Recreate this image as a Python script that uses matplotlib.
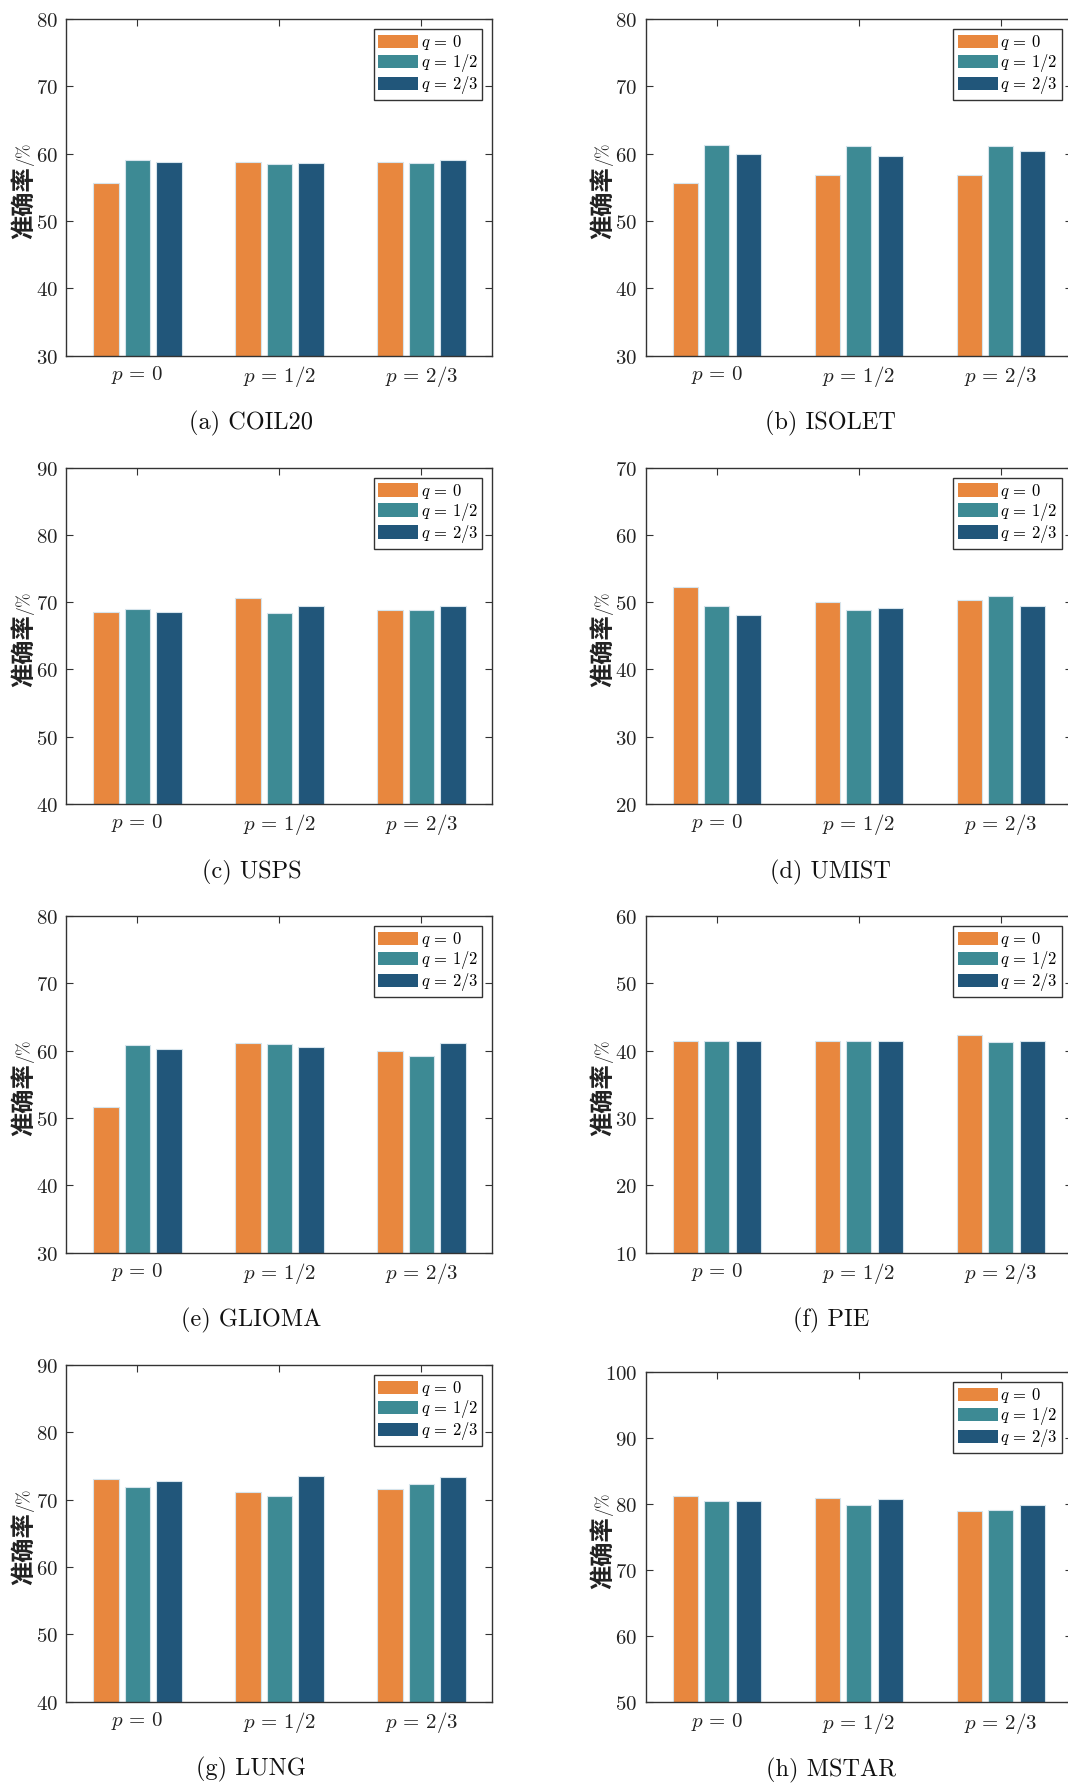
import matplotlib
matplotlib.use('Agg')
import matplotlib.pyplot as plt
import numpy as np

plt.rcParams['mathtext.fontset'] = 'cm'

# ---- data ----
p_labels = [r'$p\,=\,0$', r'$p\,=\,1/2$', r'$p\,=\,2/3$']
q_labels = [r'$q\,=\,0$', r'$q\,=\,1/2$', r'$q\,=\,2/3$']
colors = ['#E8873E', '#3D8A94', '#21567A']

# rows: q=0, q=1/2, q=2/3 ; columns: p=0, p=1/2, p=2/3
coil20 = [[55.6, 58.7, 58.8], [59.0, 58.5, 58.6], [58.8, 58.6, 59.1]]
isolet = [[55.6, 56.9, 56.9], [61.3, 61.1, 61.1], [60.0, 59.7, 60.4]]
usps = [[68.6, 70.7, 68.9], [69.0, 68.4, 68.9], [68.5, 69.5, 69.5]]
umist = [[52.3, 50.0, 50.3], [49.5, 48.9, 50.9], [48.1, 49.2, 49.5]]
glioma = [[51.7, 61.1, 60.0], [60.9, 61.0, 59.2], [60.2, 60.5, 61.2]]
pie = [[41.4, 41.5, 42.4], [41.5, 41.5, 41.3], [41.5, 41.4, 41.5]]
lung = [[73.0, 71.2, 71.6], [71.9, 70.6, 72.3], [72.8, 73.5, 73.3]]
mstar = [[81.3, 80.9, 79.0], [80.5, 79.8, 79.1], [80.4, 80.7, 79.8]]

ylims = {'COIL20': (30, 80), 'ISOLET': (30, 80), 'USPS': (40, 90), 'UMIST': (20, 70),
         'GLIOMA': (30, 80), 'PIE': (10, 60), 'LUNG': (40, 90), 'MSTAR': (50, 100)}
captions = ['(a) COIL20', '(b) ISOLET', '(c) USPS', '(d) UMIST',
            '(e) GLIOMA', '(f) PIE', '(g) LUNG', '(h) MSTAR']
names = ['COIL20', 'ISOLET', 'USPS', 'UMIST', 'GLIOMA', 'PIE', 'LUNG', 'MSTAR']
values = [coil20, isolet, usps, umist, glioma, pie, lung, mstar]

# ---- layout (pixels) ----
W, H = 1068, 1784
fig = plt.figure(figsize=(W / 100, H / 100), dpi=100)
col_left = [66.4, 645.7]
ax_w = 426
rows = [[(19, 355.7), (19, 355.7)],
        [(467.7, 804), (467.7, 804)],
        [(916, 1252.7), (916, 1252.7)],
        [(1365, 1701.7), (1372, 1702.3)]]

spine_col = '#333333'

def panel(left, top, bottom, vals, ylim, caption):
    ax = fig.add_axes([left / W, 1 - bottom / H, ax_w / W, (bottom - top) / H])
    x = np.arange(1, 4)
    offsets = [-0.222, 0.0, 0.222]
    for i in range(3):
        ax.bar(x + offsets[i], vals[i], width=0.178, color=colors[i],
               edgecolor='#d6e4ec', linewidth=0.8, label=q_labels[i], zorder=2)
    ax.set_xlim(0.5, 3.5)
    ax.set_ylim(*ylim)
    yt = np.arange(ylim[0], ylim[1] + 1, 10)
    ax.set_yticks(yt, [f'${t}$' for t in yt])
    ax.set_xticks(x, p_labels)
    ax.tick_params(direction='in', top=True, right=True, length=5, width=0.8,
                   color=spine_col, labelsize=15, labelcolor='#222222')
    ax.tick_params(axis='y', pad=6)
    ax.tick_params(axis='x', pad=6)
    for s in ax.spines.values():
        s.set_color(spine_col)
        s.set_linewidth(1.0)
    leg = ax.legend(loc='upper right', fontsize=12, handlelength=2.4,
                    handleheight=0.85, handletextpad=0.15, labelspacing=0.0,
                    borderpad=0.25, borderaxespad=0.6, frameon=True,
                    fancybox=False, edgecolor='#333333', framealpha=1)
    leg.get_frame().set_linewidth(1.0)
    for h in leg.legend_handles:
        h.set_edgecolor('none')
    cy = (top + bottom) / 2
    fig.text((left - 42.4) / W, 1 - (cy + 15) / H, '准确率', rotation=90,
             ha='center', va='center', fontsize=17.5,
             family='Noto Sans CJK SC', weight='bold', color='#222222')
    fig.text((left - 41.0) / W, 1 - (cy - 32) / H, r'$/\%$', rotation=90,
             ha='center', va='center', fontsize=12.5, color='#222222')
    fig.text((left + 185) / W, 1 - (bottom + 68) / H, caption,
             ha='center', va='center', fontsize=17.5, family='cmr10',
             color='#111111')
    return ax

k = 0
for r in range(4):
    for c in range(2):
        top, bottom = rows[r][c]
        panel(col_left[c], top, bottom, values[k], ylims[names[k]], captions[k])
        k += 1

fig.savefig('out.png', dpi=100)
